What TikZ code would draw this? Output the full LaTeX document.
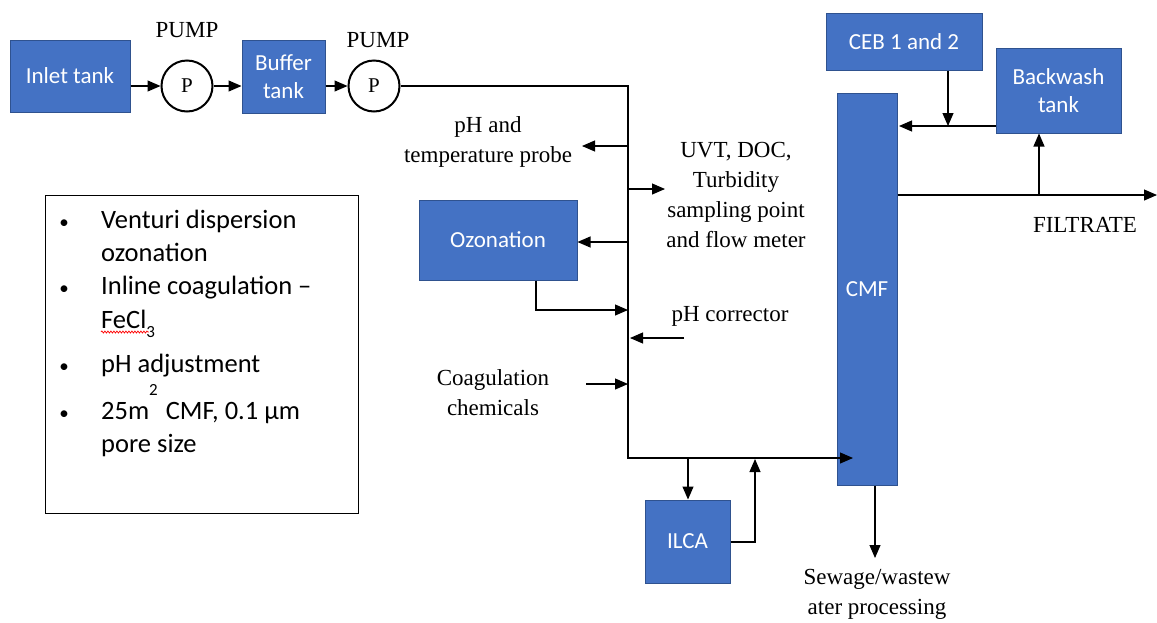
\documentclass[tikz,border=0pt]{standalone}
\usepackage{fontspec}
\setmainfont{Liberation Serif}
\newfontfamily\boxfont{Carlito}
\usetikzlibrary{arrows.meta,decorations.pathmorphing}
\definecolor{procblue}{HTML}{4472C4}
\definecolor{procedge}{HTML}{2F528F}

\begin{document}
\begin{tikzpicture}[x=1pt,y=-1pt,
  proc/.style={draw=procedge, fill=procblue, line width=1pt, text=white,
    font=\boxfont\fontsize{23}{28}\selectfont, align=center, inner sep=0pt},
  lbl/.style={font=\fontsize{23}{30}\selectfont, align=center, inner sep=0pt},
  legendtxt/.style={font=\boxfont\fontsize{26.5}{30}\selectfont, inner sep=0pt, anchor=base west},
  bulletmark/.style={font=\boxfont\fontsize{19}{20}\selectfont, inner sep=0pt, anchor=base},
  pumpc/.style={circle, draw, line width=2pt, minimum size=51pt, inner sep=0pt,
    font=\fontsize{21}{22}\selectfont},
  pipe/.style={line width=1.1pt},
  flow/.style={pipe, -{Triangle[length=13pt,width=11pt]}}]

\useasboundingbox (0,0) rectangle (1157,622);

% ---- process units ----
\node[proc, minimum width=120pt, minimum height=72pt] (inlet) at (70,76) {Inlet tank};
\node[pumpc] (p1) at (187,86) {P};
\node[lbl] (p1lbl) at (187,30) {PUMP};
\node[proc, minimum width=83pt, minimum height=73pt] (buffer) at (283.5,76.5) {Buffer\\tank};
\node[pumpc] (p2) at (374,86) {P};
\node[lbl] (p2lbl) at (378,40) {PUMP};

\node[proc, minimum width=158pt, minimum height=80pt] (ozon) at (498,240) {Ozonation};
\node[proc, minimum width=85pt, minimum height=83pt] (ilca) at (687.5,541.5) {ILCA};
\node[proc, minimum width=60pt, minimum height=392pt] (cmf) at (867,289) {CMF};
\node[proc, minimum width=156pt, minimum height=57pt] (ceb) at (904,41.5) {CEB 1 and 2};
\node[proc, minimum width=125pt, minimum height=85pt] (backwash) at (1058.5,90.5) {Backwash\\tank};

% ---- text labels ----
\node[lbl] (probe) at (488,142) {pH and\\temperature probe};
\node[lbl] (uvt) at (736,195) {UVT, DOC,\\Turbidity\\sampling point\\and flow meter};
\node[lbl] (phcor) at (730,316) {pH corrector};
\node[lbl] (coag) at (493,393) {Coagulation\\chemicals};
\node[lbl] (sewage) at (877,594) {Sewage/wastew\\ater processing};
\node[lbl] (filtrate) at (1085,225) {FILTRATE};

% ---- junction points ----
\coordinate (t1) at (628,86);
\coordinate (t2) at (628,458);
\coordinate (jprobe) at (628,146);
\coordinate (eprobe) at (582,146);
\coordinate (juvt) at (628,189);
\coordinate (euvt) at (665,189);
\coordinate (jozon) at (628,242);
\coordinate (jozret) at (628,310);
\coordinate (ozbend) at (536,310);
\coordinate (sphcor) at (684,338);
\coordinate (jphcor) at (630,338);
\coordinate (scoag) at (586,384);
\coordinate (jcoag) at (628,384);
\coordinate (cmfin) at (853,458);
\coordinate (jilca) at (688,458);
\coordinate (ilcaret) at (755,542);
\coordinate (jilcaret) at (755,459);
\coordinate (sewend) at (875,558);
\coordinate (cebjoin) at (948,126);
\coordinate (cmfbw) at (899,126);
\coordinate (filtend) at (1157,195);
\coordinate (jbw) at (1039,195);

% ---- feed line ----
\draw[flow] (inlet.east |- p1) -- (p1);
\draw[flow] (p1) -- (buffer.west |- p1);
\draw[flow] (buffer.east |- p2) -- (p2);
\draw[flow] (p2) -- (t1) -- (t2) -- (cmfin);

% ---- side streams on the trunk ----
\draw[flow] (jprobe) -- (eprobe);
\draw[flow] (juvt) -- (euvt);
\draw[flow] (jozon) -- (ozon.east |- jozon);
\draw[flow] (ozon.south -| ozbend) -- (ozbend) -- (jozret);
\draw[flow] (sphcor) -- (jphcor);
\draw[flow] (scoag) -- (jcoag);

% ---- ILCA loop ----
\draw[flow] (jilca) -- (ilca.north -| jilca);
\draw[flow] (ilca.east |- ilcaret) -- (ilcaret) -- (jilcaret);

% ---- CMF outputs and backwash ----
\draw[flow] (cmf.south -| sewend) -- (sewend);
\draw[flow] (cmf.east |- filtend) -- (filtend);
\draw[flow] (jbw) -- (backwash.south -| jbw);
\draw[flow] (backwash.west |- cmfbw) -- (cmfbw);
\draw[flow] (ceb.south -| cebjoin) -- (cebjoin);

% ---- summary box ----
\node[draw, line width=1pt, minimum width=313pt, minimum height=318pt, inner sep=0pt] (legend) at (201.5,354) {};
\foreach \yy in {228,294,372,419}
  \node[bulletmark] at (64,\yy) {•};
\node[legendtxt] (l1) at (101,228) {Venturi dispersion};
\node[legendtxt] (l2) at (101,261) {ozonation};
\node[legendtxt] (l3) at (101,294) {Inline coagulation –};
\node[legendtxt] (l4) at (101,328) {FeCl\raisebox{-9pt}{\fontsize{17}{20}\selectfont 3}};
\draw[red, line width=0.7pt, decorate, decoration={snake, amplitude=1pt, segment length=3pt}]
  ([yshift=-4pt]l4.base west) -- ([yshift=-4pt, xshift=-6pt]l4.base east);
\node[legendtxt] (l5) at (101,372) {pH adjustment};
\node[legendtxt] (l6) at (101,419) {25m\raisebox{24pt}{\fontsize{17}{20}\selectfont 2}\hspace{8pt}CMF, 0.1 µm};
\node[legendtxt] (l7) at (101,452) {pore size};

\end{tikzpicture}
\end{document}
